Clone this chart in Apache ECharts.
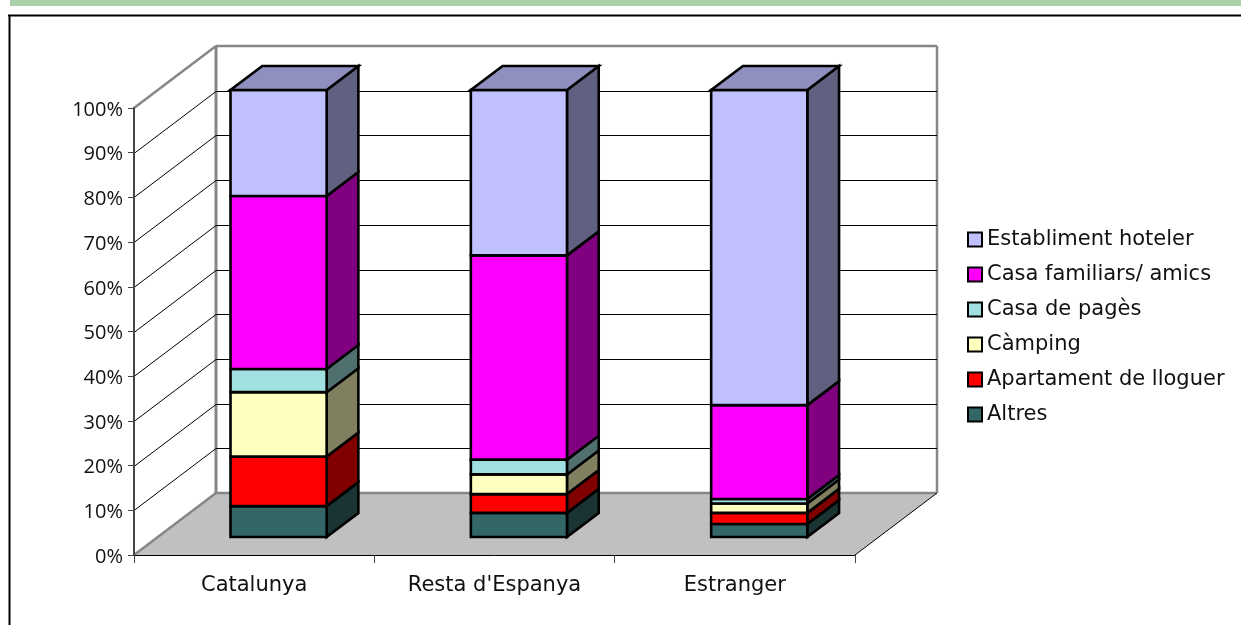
<!DOCTYPE html>
<html>
<head>
<meta charset="utf-8">
<style>html,body{margin:0;padding:0;background:#fff}#c{width:1241px;height:625px}</style>
<script src="https://cdn.jsdelivr.net/npm/echarts@6/dist/echarts.min.js"></script>
</head>
<body>
<div id="c"></div>
<script>
const categories = ['Catalunya', "Resta d'Espanya", 'Estranger'];
const altres = [6.9, 5.4, 2.9];
const apartament = [11.1, 4.2, 2.5];
const camping = [14.4, 4.4, 2.1];
const casaPages = [5.2, 3.3, 1.0];
const casaFamiliars = [38.7, 45.7, 21.0];
const hoteler = [23.7, 37.0, 70.5];
const valueTicks = [0, 10, 20, 30, 40, 50, 60, 70, 80, 90, 100];

const layers = [
  { name: 'Altres', values: altres, color: '#336666', side: '#1A3333', top: '#264D4D' },
  { name: 'Apartament de lloguer', values: apartament, color: '#FF0000', side: '#800000', top: '#C00000' },
  { name: 'Càmping', values: camping, color: '#FFFFC0', side: '#808060', top: '#C0C090' },
  { name: 'Casa de pagès', values: casaPages, color: '#A0E0E0', side: '#507070', top: '#78A8A8' },
  { name: 'Casa familiars/ amics', values: casaFamiliars, color: '#FF00FF', side: '#800080', top: '#C000C0' },
  { name: 'Establiment hoteler', values: hoteler, color: '#C0C0FF', side: '#606080', top: '#9090C0' }
];

const FONT = 'DejaVu Sans';
const DX = 82, DY = -62;          // oblique depth of the whole plot box
const Z_FRONT = 18 / 62, Z_BACK = 42 / 62;  // bar position inside the depth
const BAR_RATIO = 0.4;
const BAR_NUDGE = 0.6;

const poly = (pts, fill, stroke, lw) => ({
  type: 'polygon', shape: { points: pts },
  style: { fill: fill, stroke: stroke || null, lineWidth: lw || 0, lineJoin: 'miter' }
});
const seg = (a, b, stroke, lw) => ({
  type: 'line', shape: { x1: a[0], y1: a[1], x2: b[0], y2: b[1] },
  style: { stroke: stroke, lineWidth: lw }
});

function renderWalls(params, api) {
  const band = api.size([1, 0])[0];
  const a = api.coord([0, 0]), t = api.coord([0, 100]);
  const x0 = a[0] - band / 2, x1 = x0 + band * categories.length;
  const y0 = a[1], y1 = t[1];
  const G = '#868686';
  return { type: 'group', children: [
    poly([[x0, y0], [x1, y0], [x1 + DX, y0 + DY], [x0 + DX, y0 + DY]], '#C0C0C0'),
    seg([x0, y0], [x0 + DX, y0 + DY], G, 2.5),
    seg([x0 + DX, y0 + DY], [x1 + DX, y0 + DY], G, 2.5),
    seg([x1, y0], [x1 + DX, y0 + DY], '#000', 1),
    seg([x0 + DX, y0 + DY], [x0 + DX, y1 + DY], G, 3),
    seg([x1 + DX, y0 + DY], [x1 + DX, y1 + DY], G, 2.5),
    seg([x0 + DX, y1 + DY], [x1 + DX, y1 + DY], G, 2.5),
    seg([x0, y1], [x0 + DX, y1 + DY], G, 2.5)
  ] };
}

function renderGridLine(params, api) {
  const v = api.value(1);
  if (v === 0 || v === 100) return { type: 'group', children: [] };
  const band = api.size([1, 0])[0];
  const p = api.coord([0, v]);
  const x0 = p[0] - band / 2, x1 = x0 + band * categories.length, y = Math.round(p[1]) + 0.5;
  return { type: 'group', children: [
    seg([x0, y], [x0 + DX, y + DY], '#000', 1),
    seg([x0 + DX, y + DY], [x1 + DX, y + DY], '#000', 1)
  ] };
}

function makeBar(layerIndex) {
  const layer = layers[layerIndex];
  return function (params, api) {
    const cat = api.value(0);
    let start = 0;
    for (let i = 0; i < layerIndex; i++) start += layers[i].values[cat];
    const end = start + api.value(1);
    const band = api.size([1, 0])[0], w = band * BAR_RATIO;
    const b = api.coord([cat, start]), t = api.coord([cat, end]);
    const ox = DX * Z_FRONT + BAR_NUDGE, oy = DY * Z_FRONT;
    const sx = DX * (Z_BACK - Z_FRONT), sy = DY * (Z_BACK - Z_FRONT);
    const l = b[0] - w / 2 + ox, r = l + w, yb = b[1] + oy, yt = t[1] + oy;
    const kids = [
      poly([[r, yb], [r + sx, yb + sy], [r + sx, yt + sy], [r, yt]], layer.side, '#000', 2.6),
      poly([[l, yb], [r, yb], [r, yt], [l, yt]], layer.color, '#000', 2.6)
    ];
    if (layerIndex === layers.length - 1) {
      kids.push(poly([[l, yt], [r, yt], [r + sx, yt + sy], [l + sx, yt + sy]], layer.top, '#000', 2.6));
    }
    return { type: 'group', children: kids };
  };
}

const series = [
  { type: 'custom', name: 'walls', z: 1, silent: true, renderItem: renderWalls, data: [[0, 0]], encode: { x: 0, y: 1 } },
  { type: 'custom', name: 'grid', z: 1, silent: true, renderItem: renderGridLine,
    data: valueTicks.map(v => [0, v]), encode: { x: 0, y: 1 } }
];
layers.forEach((layer, idx) => {
  series.push({
    type: 'custom', name: layer.name, z: 2, renderItem: makeBar(idx),
    itemStyle: { color: layer.color },
    data: layer.values.map((v, i) => [i, v]), encode: { x: 0, y: 1 }
  });
});

const chart = echarts.init(document.getElementById('c'), null, { renderer: 'canvas' });
chart.setOption({
  animation: false,
  backgroundColor: '#fff',
  grid: { left: 134, right: 386, top: 108, bottom: 70, containLabel: false },
  xAxis: {
    type: 'category', data: categories, z: 5,
    axisLine: { lineStyle: { color: '#000', width: 1 } },
    axisTick: { show: true, alignWithLabel: false, length: 8, lineStyle: { color: '#444', width: 1 } },
    axisLabel: { color: '#111', fontFamily: FONT, fontSize: 21, margin: 20, interval: 0 },
    splitLine: { show: false }
  },
  yAxis: {
    type: 'value', min: 0, max: 100, interval: 10, z: 5,
    axisLine: { show: true, lineStyle: { color: '#444', width: 2 } },
    axisTick: { show: true, length: 6, lineStyle: { color: '#444', width: 1 } },
    axisLabel: { color: '#111', fontFamily: 'Open Sans', fontSize: 20, margin: 11, verticalAlign: 'top', lineHeight: 4, formatter: '{value}%' },
    splitLine: { show: false }
  },
  legend: {
    orient: 'vertical', left: 962, top: 224,
    itemWidth: 14, itemHeight: 14, itemGap: 14,
    icon: 'rect',
    data: layers.map(l => l.name).reverse(),
    textStyle: { color: '#111', fontFamily: FONT, fontSize: 21, padding: [0, 0, 0, 0] },
    itemStyle: { borderColor: '#000', borderWidth: 2 },
    selectedMode: false
  },
  tooltip: { show: false },
  graphic: [
    { type: 'rect', silent: true, shape: { x: 10, y: 0, width: 1231, height: 6 }, style: { fill: '#A9D0A9' } },
    { type: 'line', silent: true, shape: { x1: 8, y1: 15.5, x2: 1241, y2: 15.5 }, style: { stroke: '#000', lineWidth: 2 } },
    { type: 'line', silent: true, shape: { x1: 9.5, y1: 15, x2: 9.5, y2: 625 }, style: { stroke: '#000', lineWidth: 2 } }
  ],
  series: series
});
</script>
</body>
</html>
